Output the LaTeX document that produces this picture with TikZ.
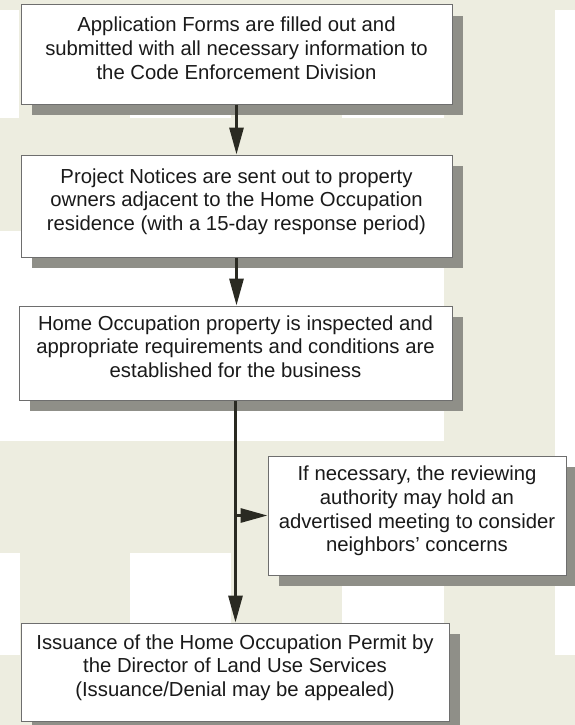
\documentclass[tikz,border=0pt]{standalone}
\usepackage{fontspec}
\setmainfont{Liberation Sans}
\usetikzlibrary{arrows.meta,shadows}
\definecolor{beigebg}{HTML}{EDEDE0}
\definecolor{shadowc}{HTML}{8F8F88}
\definecolor{borderc}{HTML}{6E6E6E}
\definecolor{arrowc}{HTML}{2A2A22}
\definecolor{textc}{HTML}{1A1A1A}
\newcommand\lastln{\rule[-13pt]{0pt}{0pt}}
\begin{document}
\begin{tikzpicture}[x=1pt,y=-1pt,
  stepbox/.style={draw=borderc, line width=1pt, fill=white, align=center, inner sep=0pt,
    text=textc, font=\fontsize{20.3pt}{23.7pt}\selectfont,
    drop shadow={shadow xshift=11pt, shadow yshift=-11pt, fill=shadowc, opacity=1}},
  arr/.style={draw=arrowc, line width=3pt, -{Triangle[length=27pt,width=14pt]}},
  tile/.style={fill=white}]
\useasboundingbox (0,0) rectangle (575,725);
% background pattern
\fill[beigebg] (0,0) rectangle (575,725);
\fill[tile] (0,10) rectangle (19,118);
\fill[tile] (130,10) rectangle (231,118);
\fill[tile] (342,10) rectangle (444,118);
\fill[tile] (555,10) rectangle (575,655);
\fill[tile] (0,231) rectangle (444,441);
\fill[tile] (0,553) rectangle (20,655);
\fill[tile] (130,553) rectangle (231,655);
\fill[tile] (342,553) rectangle (444,655);
% boxes
\node[stepbox, minimum width=431pt, minimum height=99pt] (b1) at (236.5,54.5)
  {Application Forms are filled out and\\ submitted with all necessary information to\\ the Code Enforcement Division\lastln};
\node[stepbox, minimum width=431pt, minimum height=102pt] (b2) at (236.5,206)
  {Project Notices are sent out to property\\ owners adjacent to the Home Occupation\\ residence (with a 15-day response period)\lastln};
\node[stepbox, minimum width=433pt, minimum height=94pt] (b3) at (235.5,353)
  {Home Occupation property is inspected and\\ appropriate requirements and conditions are\\ established for the business\lastln};
\node[stepbox, minimum width=298pt, minimum height=119pt] (b4) at (417,515.5)
  {If necessary, the reviewing\\ authority may hold an\\ advertised meeting to consider\\ neighbors’ concerns\lastln};
\node[stepbox, minimum width=428pt, minimum height=98pt] (b5) at (235,672)
  {Issuance of the Home Occupation Permit by\\ the Director of Land Use Services\\ (Issuance/Denial may be appealed)\lastln};
% connectors
\draw[arr] (b1.south) -- (b2.north);
\draw[arr] (b2.south) -- (b2.south |- b3.north);
\draw[arr] (b3.south) -- (b3.south |- b5.north);
\draw[arr] (b3.south |- b4.west) -- (b4.west);
\end{tikzpicture}
\end{document}
